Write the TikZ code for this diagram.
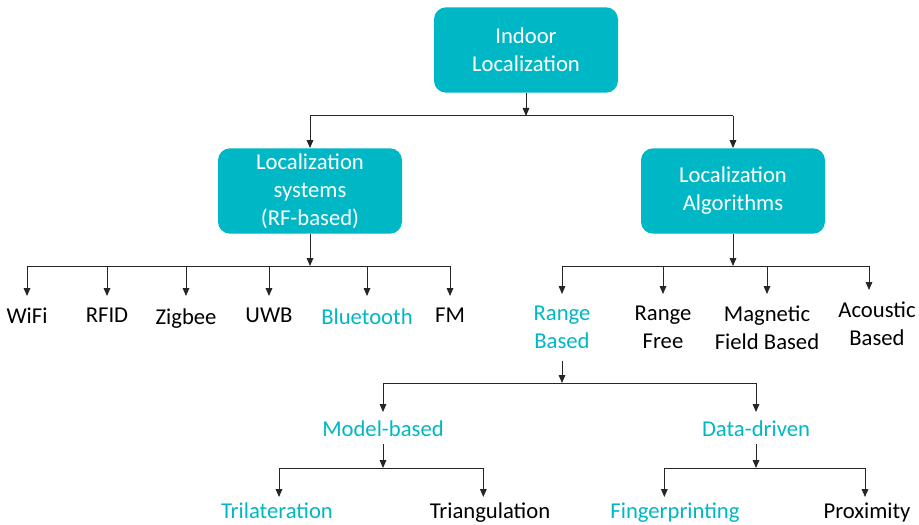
\documentclass[tikz,border=0pt]{standalone}
\usepackage{fontspec}
\setmainfont{Carlito}
\usetikzlibrary{arrows.meta,positioning}
\definecolor{accT}{HTML}{00B7C5}
\definecolor{lineC}{HTML}{262626}
\newcommand{\lblfont}{\fontsize{17}{21}\selectfont}
\tikzset{
  box/.style={fill=accT, text=white, rounded corners=9pt, minimum width=138pt, minimum height=64pt, inner sep=1pt, align=center, font=\lblfont},
  leaf/.style={anchor=north, align=center, inner sep=6pt, font=\lblfont},
  hl/.style={text=accT},
  arr/.style={-{Triangle[length=6pt,width=5pt]}, line width=0.75pt, lineC},
  bus/.style={line width=0.75pt, lineC},
}

\begin{document}
\begin{tikzpicture}[x=0.75pt,y=-0.75pt]
  \useasboundingbox (0,0) rectangle (919,524);
  % top levels
  \node[box] (indoor) at (526,50) {Indoor\\Localization};
  \node[box] (sys) at (310,191) {Localization\\systems\\(RF-based)};
  \node[box] (alg) at (733,191) {Localization\\Algorithms};
  % bus lines
  \coordinate (b0) at (526,116);
  \coordinate (b1) at (310,266);
  \coordinate (b2) at (733,266);
  \coordinate (b3) at (562,383);
  \coordinate (b4) at (383,468);
  \coordinate (b5) at (756,468);
  % RF technologies
  \begin{scope}[leaf/.append style={inner ysep=9pt}]
  \node[leaf] (wifi) at (27,296) {WiFi};
  \node[leaf] (rfid) at (107,296) {RFID};
  \node[leaf] (zig) at (186,296) {Zigbee};
  \node[leaf] (uwb) at (269,296) {UWB};
  \node[leaf, hl] (bt) at (367,296) {Bluetooth};
  \node[leaf] (fm) at (450,296) {FM};
  % algorithm families
  \node[leaf, hl] (rb) at (562,294) {Range\\Based};
  \node[leaf] (rf) at (663,294) {Range\\Free};
  \node[leaf] (mag) at (767,294) {Magnetic\\Field Based};
  \node[leaf] (ac) at (877,290) {Acoustic\\Based};
  \end{scope}
  \node[leaf, hl] (mb) at (383,412) {Model-based};
  \node[leaf, hl] (dd) at (756,412) {Data-driven};
  \begin{scope}[leaf/.append style={inner ysep=4pt}]
  \node[leaf, hl] (tril) at (277,497) {Trilateration};
  \node[leaf] (triang) at (490,497) {Triangulation};
  \node[leaf, hl] (fp) at (675,497) {Fingerprinting};
  \node[leaf] (prox) at (867,497) {Proximity};
  \end{scope}

  \draw[arr] (indoor) -- (b0);
  \draw[bus] (sys |- b0) -- (alg |- b0);
  \draw[arr] (sys |- b0) -- (sys);
  \draw[arr] (alg |- b0) -- (alg);

  \draw[arr] (sys) -- (b1);
  \draw[bus] (wifi |- b1) -- (fm |- b1);
  \foreach \n in {wifi,rfid,zig,uwb,bt,fm}
    \draw[arr] (\n |- b1) -- (\n);

  \draw[arr] (alg) -- (b2);
  \draw[bus] (rb |- b2) -- ([xshift=-6pt]ac.north |- b2);
  \foreach \n/\s in {rb/0,rf/0,mag/0,ac/-6}
    \draw[arr] ([xshift=\s pt]\n.north |- b2) -- ([xshift=\s pt]\n.north);

  \draw[arr] (rb) -- (b3);
  \draw[bus] (mb |- b3) -- (dd |- b3);
  \draw[arr] (mb |- b3) -- (mb);
  \draw[arr] (dd |- b3) -- (dd);

  \draw[arr] (mb) -- (b4);
  \draw[bus] ([xshift=1.5pt]tril.north |- b4) -- ([xshift=-5pt]triang.north |- b4);
  \foreach \n/\s in {tril/1.5,triang/-5}
    \draw[arr] ([xshift=\s pt]\n.north |- b4) -- ([xshift=\s pt]\n.north);

  \draw[arr] (dd) -- (b5);
  \draw[bus] ([xshift=-8pt]fp.north |- b5) -- ([xshift=-1.5pt]prox.north |- b5);
  \foreach \n/\s in {fp/-8,prox/-1.5}
    \draw[arr] ([xshift=\s pt]\n.north |- b5) -- ([xshift=\s pt]\n.north);
\end{tikzpicture}
\end{document}
